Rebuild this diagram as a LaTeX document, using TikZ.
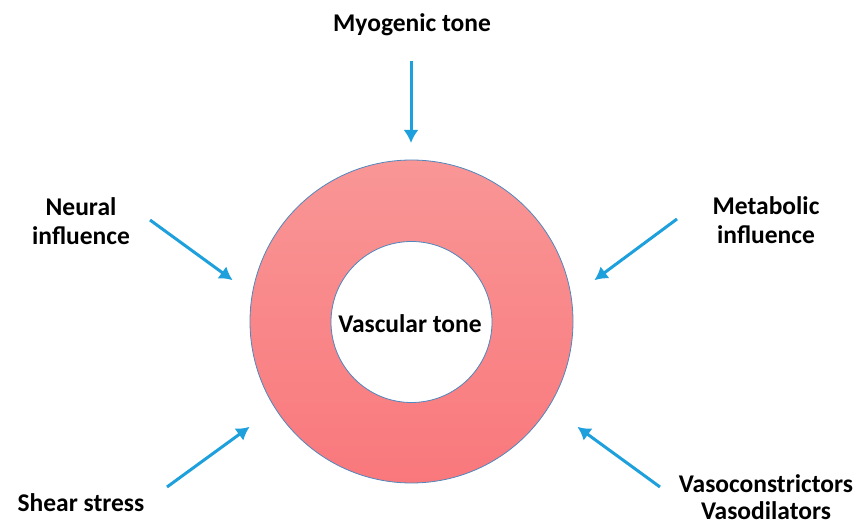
\documentclass[tikz,border=0pt]{standalone}
\usepackage{fontspec}
\setmainfont{Carlito}
\usetikzlibrary{arrows.meta}
\definecolor{ringtop}{RGB}{249,150,150}
\definecolor{ringbot}{RGB}{249,120,124}
\definecolor{ringedge}{RGB}{79,135,190}
\definecolor{arrowblue}{RGB}{30,160,220}
\tikzset{
  lbl/.style={font=\bfseries\fontsize{25.5}{29}\selectfont, align=center, inner sep=0pt},
  infl/.style={arrowblue, line width=3pt, -{Latex[length=13pt,width=15pt,inset=4pt]}, shorten >=-2pt}
}
\begin{document}
\begin{tikzpicture}[x=1pt,y=-1pt]
\useasboundingbox (0,0) rectangle (857,526);
% ring
\path[even odd rule, top color=ringtop, bottom color=ringbot]
  (411.5,321.5) circle[radius=161.5] (411.5,322) circle[radius=80.5];
\draw[ringedge, line width=0.8pt] (411.5,321.5) circle[radius=161.5];
\draw[ringedge, line width=0.8pt] (411.5,322) circle[radius=80.5];
\node[lbl] (vt) at (410,324) {Vascular tone};
% labels
\node[lbl] (myo) at (412,25) {Myogenic tone};
\node[lbl] (neu) at (81,221) {Neural\\influence};
\node[lbl] (met) at (766,220) {Metabolic\\influence};
\node[lbl] (she) at (81,503) {Shear stress};
\node[lbl, font=\bfseries\fontsize{25.5}{27.5}\selectfont] (vas) at (766,497) {Vasoconstrictors\\Vasodilators};
% arrow endpoints
\coordinate (a1s) at (411,61);  \coordinate (a1e) at (411,141);
\coordinate (a2s) at (150,220); \coordinate (a2e) at (231,279);
\coordinate (a3s) at (677,219); \coordinate (a3e) at (596,279);
\coordinate (a4s) at (167,487); \coordinate (a4e) at (248,428);
\coordinate (a5s) at (660,487); \coordinate (a5e) at (579,428);
\draw[infl] (a1s) -- (a1e);
\draw[infl] (a2s) -- (a2e);
\draw[infl] (a3s) -- (a3e);
\draw[infl] (a4s) -- (a4e);
\draw[infl] (a5s) -- (a5e);
\end{tikzpicture}
\end{document}
